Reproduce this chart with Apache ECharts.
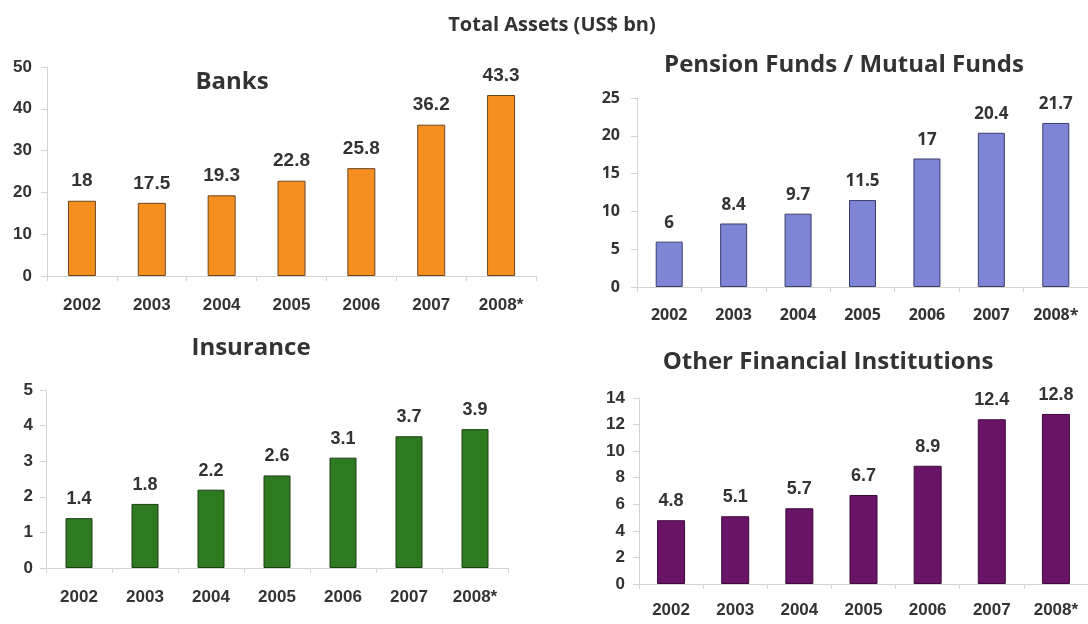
<!DOCTYPE html>
<html>
<head>
<meta charset="utf-8">
<script src="https://cdn.jsdelivr.net/npm/echarts@6/dist/echarts.min.js"></script>
<style>
  html, body { margin: 0; padding: 0; background: #fff; }
  #chart { width: 1088px; height: 624px; }
</style>
</head>
<body>
<div id="chart"></div>
<script>
const years = ['2002', '2003', '2004', '2005', '2006', '2007', '2008*']
const banks = [18, 17.5, 19.3, 22.8, 25.8, 36.2, 43.3]
const pension = [6, 8.4, 9.7, 11.5, 17, 20.4, 21.7]
const insurance = [1.4, 1.8, 2.2, 2.6, 3.1, 3.7, 3.9]
const other = [4.8, 5.1, 5.7, 6.7, 8.9, 12.4, 12.8]

const mainTitle = 'Total Assets (US$ bn)'
const panelTitles = ['Banks', 'Pension Funds / Mutual Funds', 'Insurance', 'Other Financial Institutions']

const arial = '"Liberation Sans", Arial, sans-serif'
const calibri = '"Open Sans", sans-serif'
const textColor = '#333'
const lineColor = '#d4d4d0'

// panel layout: grid box, y range, bar look
const panels = [
  { grid: { left: 47, top: 67, width: 489, height: 209 }, max: 50, interval: 10, color: '#f59020', border: '#6b4420', barWidth: 28, font: arial, size: 17, valSize: 19, ymargin: 15, xmargin: 21 },
  { grid: { left: 637, top: 98, width: 455, height: 189 }, max: 25, interval: 5, color: '#7f85d6', border: '#3b3d6a', barWidth: 27, font: calibri, size: 16, valSize: 17, ymargin: 17, xmargin: 20 },
  { grid: { left: 46, top: 390, width: 462, height: 178 }, max: 5, interval: 1, color: '#2e7a20', border: '#1c3f14', barWidth: 27, font: arial, size: 17, valSize: 18, ymargin: 13, xmargin: 21 },
  { grid: { left: 639, top: 398, width: 457, height: 186 }, max: 14, interval: 2, color: '#6a1468', border: '#3c0a3a', barWidth: 28, font: arial, size: 17, valSize: 18, ymargin: 14, xmargin: 18 }
]
const seriesData = [banks, pension, insurance, other]

const titlePos = [[232, 82], [844, 65], [251, 348], [828, 362]]

const chart = echarts.init(document.getElementById('chart'))
chart.setOption({
  backgroundColor: '#fff',
  animation: false,
  grid: panels.map(p => p.grid),
  xAxis: panels.map((p, i) => ({
    type: 'category',
    gridIndex: i,
    data: years,
    axisLine: { lineStyle: { color: lineColor, width: 1 } },
    axisTick: { show: true, length: 5, lineStyle: { color: lineColor } },
    axisLabel: { color: textColor, fontFamily: p.font, fontWeight: 'bold', fontSize: p.size, margin: p.xmargin }
  })),
  yAxis: panels.map((p, i) => ({
    type: 'value',
    gridIndex: i,
    min: 0,
    max: p.max,
    interval: p.interval,
    axisLine: { show: true, lineStyle: { color: lineColor, width: 1 } },
    axisTick: { show: true, length: 6, lineStyle: { color: lineColor } },
    splitLine: { show: false },
    axisLabel: { color: textColor, fontFamily: p.font, fontWeight: 'bold', fontSize: p.size, margin: p.ymargin }
  })),
  series: panels.map((p, i) => ({
    type: 'bar',
    xAxisIndex: i,
    yAxisIndex: i,
    data: seriesData[i],
    barWidth: p.barWidth,
    itemStyle: { color: p.color, borderColor: p.border, borderWidth: 1 },
    label: {
      show: true,
      position: 'top',
      distance: 10,
      color: textColor,
      fontFamily: p.font,
      fontWeight: 'bold',
      fontSize: p.valSize
    }
  })),
  graphic: [
    {
      type: 'text', x: 552, y: 25,
      style: { text: mainTitle, fill: textColor, font: 'bold 20px "Open Sans", sans-serif', textAlign: 'center', textVerticalAlign: 'middle' }
    },
    ...panelTitles.map((t, i) => ({
      type: 'text', x: titlePos[i][0], y: titlePos[i][1],
      style: { text: t, fill: textColor, font: 'bold 24px "Open Sans", sans-serif', textAlign: 'center', textVerticalAlign: 'middle' }
    }))
  ]
})
</script>
</body>
</html>
